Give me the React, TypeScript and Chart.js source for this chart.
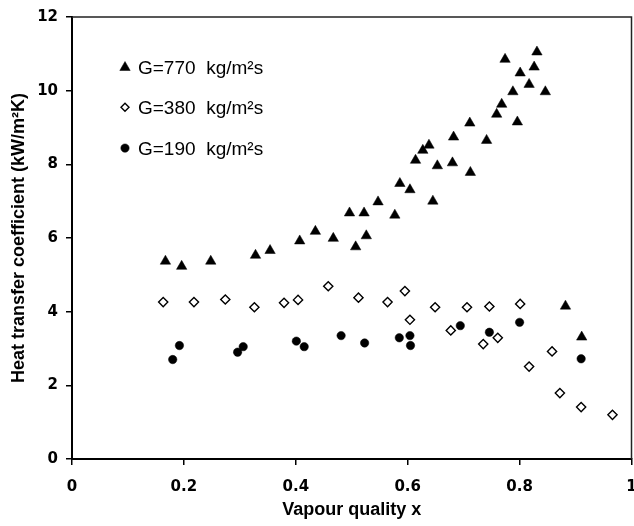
import React, { useEffect, useRef } from 'react';
import { Chart, registerables } from 'chart.js';
import { drawPoint } from 'chart.js/helpers';

Chart.register(...registerables);

// G = 770 kg/m2s
const xHigh = [0.167, 0.196, 0.248, 0.328, 0.354, 0.407, 0.435, 0.467, 0.496, 0.507, 0.522, 0.526, 0.547, 0.577, 0.586, 0.604, 0.614, 0.627, 0.638, 0.645, 0.653, 0.680, 0.682, 0.711, 0.712, 0.741, 0.759, 0.768, 0.774, 0.788, 0.796, 0.801, 0.817, 0.826, 0.831, 0.846, 0.882, 0.911];
const yHigh = [5.37, 5.23, 5.37, 5.53, 5.66, 5.92, 6.18, 5.99, 6.68, 5.76, 6.68, 6.06, 6.98, 6.62, 7.48, 7.31, 8.11, 8.38, 8.52, 7.00, 7.96, 8.04, 8.74, 9.12, 7.78, 8.65, 9.36, 9.63, 10.85, 9.97, 9.15, 10.48, 10.17, 10.64, 11.05, 9.97, 4.15, 3.31];

// G = 380 kg/m2s
const xMid = [0.163, 0.218, 0.274, 0.326, 0.379, 0.404, 0.458, 0.512, 0.564, 0.595, 0.604, 0.649, 0.677, 0.706, 0.735, 0.746, 0.761, 0.801, 0.817, 0.858, 0.872, 0.910, 0.966];
const yMid = [4.26, 4.26, 4.33, 4.12, 4.24, 4.32, 4.69, 4.38, 4.26, 4.56, 3.78, 4.12, 3.49, 4.12, 3.12, 4.14, 3.29, 4.21, 2.51, 2.92, 1.79, 1.41, 1.20];

// G = 190 kg/m2s
const xLow = [0.180, 0.192, 0.296, 0.306, 0.401, 0.415, 0.481, 0.523, 0.585, 0.604, 0.605, 0.694, 0.746, 0.800, 0.910];
const yLow = [2.70, 3.08, 2.90, 3.05, 3.20, 3.05, 3.35, 3.15, 3.29, 3.35, 3.08, 3.62, 3.44, 3.71, 2.72];

const seriesLabels = ['G=770  kg/m\u00B2s', 'G=380  kg/m\u00B2s', 'G=190  kg/m\u00B2s'];

const xTickValues = [0, 0.2, 0.4, 0.6, 0.8, 1];
const xTickLabels = ['0', '0.2', '0.4', '0.6', '0.8', '1'];
const yTickValues = [0, 2, 4, 6, 8, 10, 12];
const yTickLabels = ['0', '2', '4', '6', '8', '10', '12'];

const toPoints = (xs: number[], ys: number[]) => xs.map((x, i) => ({ x, y: ys[i] }));

const framePlugin = {
  id: 'frame',
  beforeDatasetsDraw(chart: any) {
    const { ctx, chartArea } = chart;
    ctx.save();
    ctx.strokeStyle = '#222';
    ctx.lineWidth = 1.5;
    ctx.beginPath();
    ctx.moveTo(chartArea.left, chartArea.top);
    ctx.lineTo(chartArea.right, chartArea.top);
    ctx.lineTo(chartArea.right, chartArea.bottom);
    ctx.stroke();
    ctx.restore();
  },
};

const innerLegendPlugin = {
  id: 'innerLegend',
  afterDatasetsDraw(chart: any) {
    const { ctx, chartArea } = chart;
    const markerX = chartArea.left + 53;
    const textX = chartArea.left + 66;
    const firstRow = chartArea.top + 49.5;
    const rowGap = 40.8;
    ctx.save();
    chart.data.datasets.forEach((ds: any, i: number) => {
      const cy = firstRow + i * rowGap;
      ctx.fillStyle = ds.pointBackgroundColor;
      ctx.strokeStyle = ds.pointBorderColor;
      ctx.lineWidth = ds.pointBorderWidth;
      drawPoint(ctx, { pointStyle: ds.pointStyle, radius: ds.legendRadius, rotation: 0, borderWidth: ds.pointBorderWidth }, markerX, cy + (ds.pointStyle === 'triangle' ? 1 : 0));
      ctx.fillStyle = '#000';
      ctx.font = '19px "Liberation Sans", Arial, sans-serif';
      ctx.textAlign = 'left';
      ctx.textBaseline = 'alphabetic';
      ctx.fillText(ds.label, textX, cy + 7);
    });
    ctx.restore();
  },
};

export default function App() {
  const canvasRef = useRef<HTMLCanvasElement | null>(null);

  useEffect(() => {
    if (!canvasRef.current) return;
    const tickFont = { family: '"DejaVu Sans", sans-serif', weight: 'bold' as const, size: 15 };
    const titleFont = { family: '"Liberation Sans", Arial, sans-serif', weight: 'bold' as const, size: 18 };
    const chart = new Chart(canvasRef.current, {
      type: 'scatter',
      data: {
        datasets: [
          {
            label: seriesLabels[0],
            data: toPoints(xHigh, yHigh),
            pointStyle: 'triangle',
            pointRadius: 6,
            legendRadius: 6,
            pointBackgroundColor: '#000',
            pointBorderColor: '#000',
            pointBorderWidth: 0.5,
          } as any,
          {
            label: seriesLabels[1],
            data: toPoints(xMid, yMid),
            pointStyle: 'rectRot',
            pointRadius: 4.6,
            legendRadius: 4,
            pointBackgroundColor: '#fff',
            pointBorderColor: '#000',
            pointBorderWidth: 1.4,
          } as any,
          {
            label: seriesLabels[2],
            data: toPoints(xLow, yLow),
            pointStyle: 'circle',
            pointRadius: 4.2,
            legendRadius: 4.2,
            pointBackgroundColor: '#000',
            pointBorderColor: '#000',
            pointBorderWidth: 0.5,
          } as any,
        ],
      },
      options: {
        animation: false,
        responsive: false,
        maintainAspectRatio: false,
        layout: { padding: { top: 17, right: 1.5, left: 0, bottom: 0 } },
        plugins: {
          legend: { display: false },
          tooltip: { enabled: false },
        },
        scales: {
          x: {
            type: 'linear',
            min: 0,
            max: 1,
            afterBuildTicks: (axis: any) => {
              axis.ticks = xTickValues.map((v) => ({ value: v }));
            },
            afterFit: (s: any) => {
              s.height = 67;
              s.paddingLeft = 0;
              s.paddingRight = 0;
            },
            grid: { display: true, drawOnChartArea: false, drawTicks: true, tickLength: 6, color: '#000', lineWidth: 1.5 },
            border: { display: true, color: '#000', width: 2 },
            ticks: {
              font: tickFont,
              color: '#000',
              padding: 13,
              maxRotation: 0,
              autoSkip: false,
              callback: (_v: any, i: number) => xTickLabels[i],
            },
            title: {
              display: true,
              text: 'Vapour quality x',
              font: titleFont,
              color: '#000',
              padding: { top: 0, bottom: 5 },
            },
          },
          y: {
            type: 'linear',
            min: 0,
            max: 12,
            afterBuildTicks: (axis: any) => {
              axis.ticks = yTickValues.map((v) => ({ value: v }));
            },
            afterFit: (s: any) => {
              s.width = 72;
              s.paddingTop = 0;
              s.paddingBottom = 0;
            },
            grid: { display: true, drawOnChartArea: false, drawTicks: true, tickLength: 6, color: '#000', lineWidth: 1.5 },
            border: { display: true, color: '#000', width: 2 },
            ticks: {
              font: tickFont,
              color: '#000',
              padding: 8,
              autoSkip: false,
              callback: (_v: any, i: number) => yTickLabels[i],
            },
            title: {
              display: true,
              text: 'Heat transfer coefficient (kW/m\u00B2K)',
              font: titleFont,
              color: '#000',
              padding: { top: 8, bottom: 0 },
            },
          },
        },
      } as any,
      plugins: [framePlugin, innerLegendPlugin],
    });
    return () => chart.destroy();
  }, []);

  return (
    <div style={{ position: 'fixed', left: 0, top: 0, width: 634, height: 526, overflow: 'hidden', background: '#fff' }}>
      <canvas ref={canvasRef} width={638} height={526} style={{ display: 'block' }} />
    </div>
  );
}
